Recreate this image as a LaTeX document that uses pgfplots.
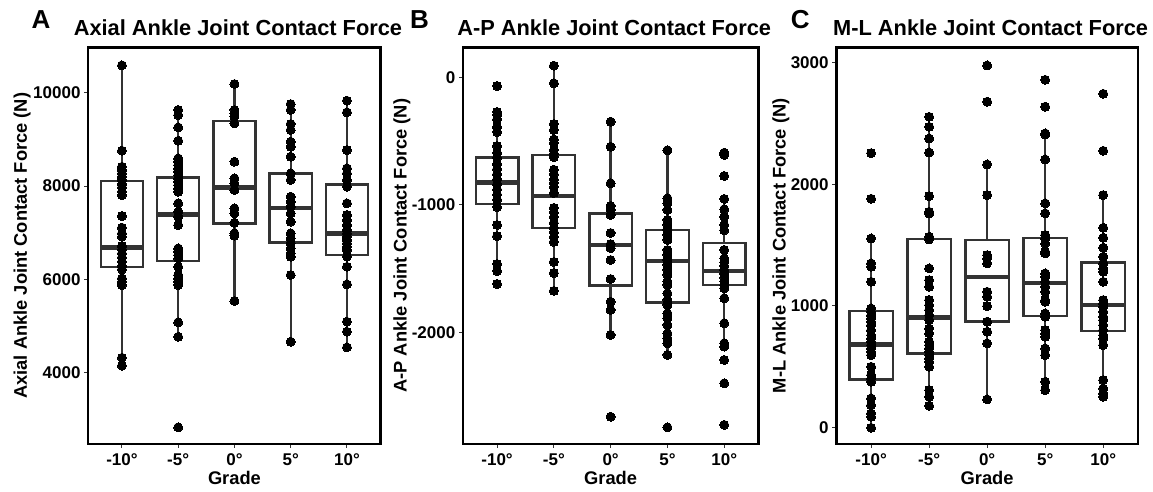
\documentclass[border=0pt]{standalone}
\usepackage{pgfplots}
\pgfplotsset{compat=1.18}
\usepackage{fontspec}
\setmainfont{Liberation Sans}
\definecolor{boxgray}{HTML}{333333}
\pgfplotsset{
  panel/.style={
    scale only axis, height=396.1pt,
    xmin=0.4, xmax=5.6,
    xtick={1,2,3,4,5}, xticklabels={-10°,-5°,0°,5°,10°},
    scaled y ticks=false,
    tick pos=left, tick align=outside, major tick length=4pt,
    tick style={line width=1pt, color=boxgray},
    axis line style={line width=2.6pt, black},
    ticklabel style={font=\bfseries\fontsize{17}{17}\selectfont, inner sep=0pt, text=black},
    yticklabel style={anchor=east, xshift=-3.5pt},
    xticklabel style={anchor=north, yshift=-5.5pt},
    title style={font=\bfseries\fontsize{21.8}{22}\selectfont, anchor=base, at={(axis description cs:0.5,1)}, yshift=6pt, xshift=3.5pt},
    xlabel={Grade},
    xlabel style={font=\bfseries\fontsize{18.3}{18.3}\selectfont, at={(axis description cs:0.5,0)}, anchor=base, yshift=-41pt},
    ylabel style={font=\bfseries\fontsize{18.3}{18.3}\selectfont, anchor=base, inner sep=0pt},
    clip=false,
  },
  boxline/.style={draw=boxgray, line width=2.4pt, line join=miter, solid, mark=none},
  pts/.style={only marks, mark=*, mark size=4.5pt, mark options={fill=black, draw=black, line width=0pt}},
}
% #1 left, #2 centre, #3 right, #4 lower whisker, #5 Q1, #6 median, #7 Q3, #8 upper whisker
\newcommand{\bxp}[8]{%
  \addplot[boxline] coordinates {(#2,#7) (#2,#8)};
  \addplot[boxline] coordinates {(#2,#5) (#2,#4)};
  \addplot[boxline, fill=white] coordinates {(#1,#5) (#3,#5) (#3,#7) (#1,#7)} -- cycle;
  \addplot[boxline, line width=4.4pt, line cap=butt] coordinates {(#1,#6) (#3,#6)};
}
\begin{document}
\begin{tikzpicture}
\useasboundingbox (0,0) rectangle (1153pt,491pt);
% ---------------- Panel A ----------------
\begin{axis}[panel, at={(88.2pt,47.2pt)}, anchor=south west, width=292.5pt,
  ymin=2476, ymax=10964, ytick={4000,6000,8000,10000}, yticklabels={4000,6000,8000,10000},
  title={Axial Ankle Joint Contact Force},
  ylabel={Axial Ankle Joint Contact Force (N)},
  ylabel style={at={(axis description cs:-0.2096,0.5)}}]
\bxp{0.625}{1}{1.375}{4150}{6271}{6686}{8107}{10586}
\bxp{1.625}{2}{2.375}{4771}{6393}{7393}{8179}{9629}
\bxp{2.625}{3}{3.375}{5536}{7200}{7964}{9393}{10186}
\bxp{3.625}{4}{4.375}{4664}{6793}{7529}{8264}{9757}
\bxp{4.625}{5}{5.375}{4543}{6521}{6986}{8036}{9829}
\addplot[pts] coordinates {(1,10586) (1,8757) (1,8414) (1,8343) (1,8271) (1,8200) (1,8129) (1,8043) (1,7971) (1,7879) (1,7807) (1,7357) (1,7107) (1,6986) (1,6914) (1,6714) (1,6643) (1,6557) (1,6471) (1,6379) (1,6286) (1,6214) (1,6021) (1,5950) (1,5879) (1,4321) (1,4150)};
\addplot[pts] coordinates {(2,9629) (2,9521) (2,9257) (2,8971) (2,8593) (2,8521) (2,8450) (2,8379) (2,8307) (2,8236) (2,8164) (2,8093) (2,8021) (2,7950) (2,7879) (2,7629) (2,7450) (2,7343) (2,7164) (2,6664) (2,6593) (2,6521) (2,6450) (2,6271) (2,6093) (2,6021) (2,5950) (2,5879) (2,5079) (2,4771) (2,2829)};
\addplot[pts] coordinates {(3,10186) (3,9629) (3,9557) (3,9486) (3,9343) (3,8521) (3,8164) (3,8057) (3,7914) (3,7521) (3,7414) (3,7214) (3,6986) (3,6936) (3,5536)};
\addplot[pts] coordinates {(4,9757) (4,9629) (4,9329) (4,9200) (4,8950) (4,8843) (4,8629) (4,8271) (4,8129) (4,7771) (4,7664) (4,7557) (4,7414) (4,7236) (4,6986) (4,6879) (4,6771) (4,6664) (4,6557) (4,6486) (4,6093) (4,4664)};
\addplot[pts] coordinates {(5,9829) (5,9579) (5,8771) (5,8379) (5,8271) (5,8129) (5,7986) (5,7629) (5,7379) (5,7271) (5,7164) (5,7057) (5,6986) (5,6914) (5,6843) (5,6771) (5,6700) (5,6629) (5,6486) (5,6271) (5,5893) (5,5093) (5,4879) (5,4543)};
\end{axis}
% ---------------- Panel B ----------------
\begin{axis}[panel, at={(463pt,47.2pt)}, anchor=south west, width=295.3pt,
  ymin=-2874.5, ymax=232, ytick={-2000,-1000,0}, yticklabels={-2000,-1000,0},
  title={A-P Ankle Joint Contact Force},
  ylabel={A-P Ankle Joint Contact Force (N)},
  ylabel style={at={(axis description cs:-0.1907,0.5)}}]
\bxp{0.625}{1}{1.375}{-1519}{-996}{-826}{-630}{-256}
\bxp{1.625}{2}{2.375}{-1675}{-1184}{-931}{-609}{91}
\bxp{2.625}{3}{3.375}{-2021}{-1632}{-1315}{-1067}{-348}
\bxp{3.625}{4}{4.375}{-2177}{-1767}{-1441}{-1198}{-572}
\bxp{4.625}{5}{5.375}{-2112}{-1629}{-1519}{-1302}{-954}
\addplot[pts] coordinates {(1,-68) (1,-272) (1,-295) (1,-330) (1,-390) (1,-429) (1,-539) (1,-593) (1,-630) (1,-680) (1,-720) (1,-760) (1,-800) (1,-840) (1,-880) (1,-920) (1,-960) (1,-1017) (1,-1158) (1,-1245) (1,-1464) (1,-1519) (1,-1621)};
\addplot[pts] coordinates {(2,91) (2,-47) (2,-366) (2,-413) (2,-487) (2,-515) (2,-570) (2,-600) (2,-625) (2,-725) (2,-760) (2,-800) (2,-828) (2,-860) (2,-907) (2,-1024) (2,-1060) (2,-1095) (2,-1143) (2,-1180) (2,-1215) (2,-1252) (2,-1291) (2,-1448) (2,-1535) (2,-1675)};
\addplot[pts] coordinates {(3,-348) (3,-544) (3,-831) (3,-1009) (3,-1040) (3,-1080) (3,-1221) (3,-1308) (3,-1340) (3,-1433) (3,-1582) (3,-1760) (3,-1825) (3,-2021) (3,-2662)};
\addplot[pts] coordinates {(4,-572) (4,-949) (4,-988) (4,-1040) (4,-1119) (4,-1158) (4,-1197) (4,-1236) (4,-1276) (4,-1354) (4,-1393) (4,-1432) (4,-1472) (4,-1511) (4,-1550) (4,-1602) (4,-1628) (4,-1694) (4,-1746) (4,-1785) (4,-1851) (4,-1890) (4,-1942) (4,-2008) (4,-2047) (4,-2086) (4,-2177) (4,-2745)};
\addplot[pts] coordinates {(5,-591) (5,-609) (5,-774) (5,-954) (5,-1035) (5,-1093) (5,-1158) (5,-1200) (5,-1354) (5,-1420) (5,-1450) (5,-1480) (5,-1510) (5,-1540) (5,-1570) (5,-1600) (5,-1630) (5,-1655) (5,-1733) (5,-1929) (5,-2086) (5,-2112) (5,-2217) (5,-2400) (5,-2726)};
\end{axis}
% ---------------- Panel C ----------------
\begin{axis}[panel, at={(836.3pt,47.2pt)}, anchor=south west, width=301.7pt,
  ymin=-132, ymax=3121.6, ytick={0,1000,2000,3000}, yticklabels={0,1000,2000,3000},
  title={M-L Ankle Joint Contact Force},
  ylabel={M-L Ankle Joint Contact Force (N)},
  ylabel style={at={(axis description cs:-0.1684,0.5)}}]
\bxp{0.625}{1}{1.375}{0}{397}{684}{961}{1555}
\bxp{1.625}{2}{2.375}{181}{610}{906}{1549}{2554}
\bxp{2.625}{3}{3.375}{233}{871}{1240}{1541}{2163}
\bxp{3.625}{4}{4.375}{309}{920}{1191}{1560}{2417}
\bxp{4.625}{5}{5.375}{255}{797}{1007}{1358}{1911}
\addplot[pts] coordinates {(1,2256) (1,1881) (1,1555) (1,1350) (1,1322) (1,1199) (1,980) (1,953) (1,925) (1,898) (1,871) (1,843) (1,802) (1,761) (1,734) (1,706) (1,679) (1,652) (1,624) (1,597) (1,501) (1,433) (1,405) (1,378) (1,241) (1,186) (1,118) (1,90) (1,0)};
\addplot[pts] coordinates {(2,2554) (2,2472) (2,2376) (2,2261) (2,1903) (2,1774) (2,1760) (2,1569) (2,1547) (2,1309) (2,1213) (2,1158) (2,1049) (2,1008) (2,967) (2,925) (2,884) (2,816) (2,775) (2,706) (2,679) (2,652) (2,624) (2,597) (2,570) (2,542) (2,501) (2,309) (2,255) (2,181)};
\addplot[pts] coordinates {(3,2976) (3,2678) (3,2163) (3,1911) (3,1418) (3,1391) (3,1350) (3,1117) (3,1076) (3,999) (3,871) (3,789) (3,693) (3,233)};
\addplot[pts] coordinates {(4,2858) (4,2637) (4,2418) (4,2409) (4,2204) (4,1843) (4,1761) (4,1583) (4,1555) (4,1514) (4,1446) (4,1432) (4,1268) (4,1240) (4,1199) (4,1158) (4,1117) (4,1049) (4,1035) (4,939) (4,912) (4,802) (4,775) (4,747) (4,652) (4,597) (4,378) (4,309)};
\addplot[pts] coordinates {(5,2743) (5,2275) (5,1911) (5,1643) (5,1561) (5,1479) (5,1405) (5,1350) (5,1309) (5,1281) (5,1199) (5,1049) (5,1021) (5,994) (5,953) (5,912) (5,884) (5,843) (5,802) (5,761) (5,734) (5,679) (5,392) (5,323) (5,282) (5,255)};
\end{axis}
% panel letters
\node[anchor=base west, inner sep=0pt, font=\bfseries\fontsize{26}{26}\selectfont] at (31.5pt,462.7pt) {A};
\node[anchor=base west, inner sep=0pt, font=\bfseries\fontsize{26}{26}\selectfont] at (409.8pt,462.7pt) {B};
\node[anchor=base west, inner sep=0pt, font=\bfseries\fontsize{26}{26}\selectfont] at (790.6pt,462.7pt) {C};
\end{tikzpicture}
\end{document}
